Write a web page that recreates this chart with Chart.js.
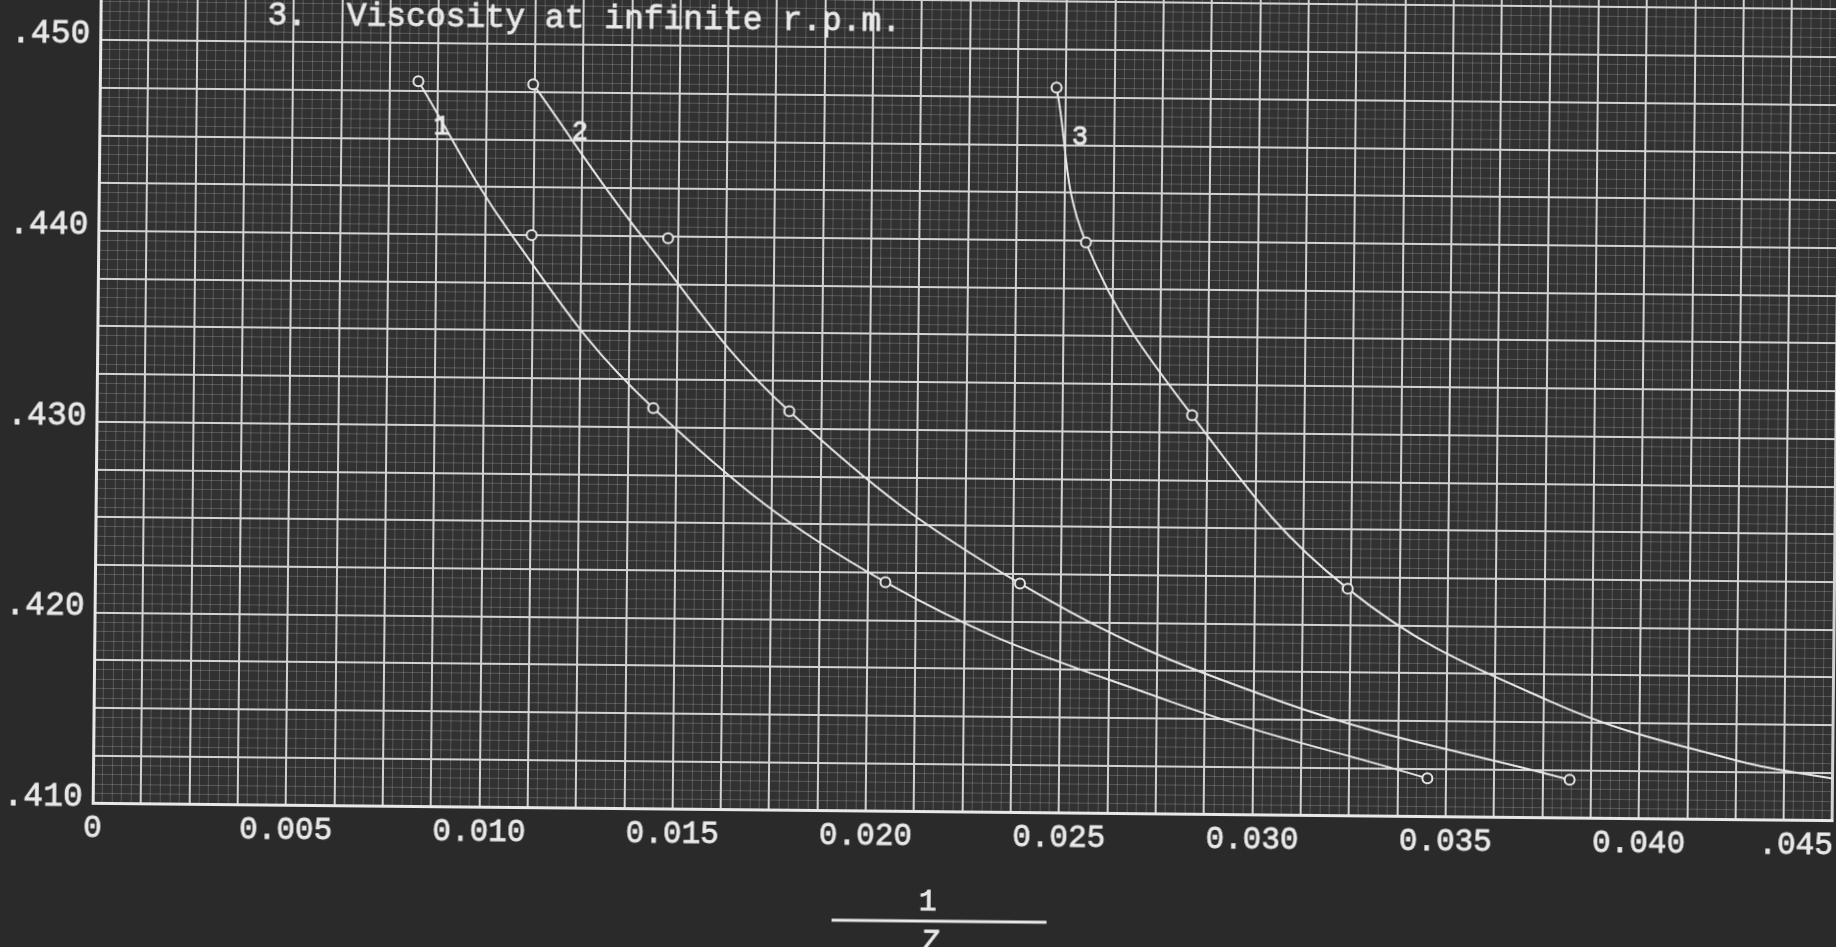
<!DOCTYPE html>
<html>
<head>
<meta charset="utf-8">
<title>Viscosity at infinite r.p.m.</title>
<script src="https://cdn.jsdelivr.net/npm/chart.js@4.4.1/dist/chart.umd.min.js"></script>
<style>
  html, body { margin: 0; width: 1836px; height: 947px; overflow: hidden; background: #2a2a2a; }
  /* the sheet sits a little crooked in the photo, so the whole canvas is tilted */
  #sheet {
    position: absolute; left: -20px; top: -20px;
    width: 1876px; height: 987px;
    transform: rotate(0.57deg); transform-origin: 50% 50%;
  }
</style>
</head>
<body>
<div id="sheet"><canvas id="viscosityChart" width="1876" height="987"></canvas></div>
<script>
// plotted circles, curve 1
const curve1X = [0.00824, 0.01121, 0.01440, 0.02045, 0.03452];
const curve1Y = [0.4480, 0.4400, 0.4310, 0.4220, 0.4120];
// plotted circles, curve 2
const curve2X = [0.01121, 0.01474, 0.01792, 0.02393, 0.03820];
const curve2Y = [0.4479, 0.4399, 0.4309, 0.4220, 0.4120];
// plotted circles, curve 3
const curve3X = [0.02475, 0.02555, 0.02834, 0.03241];
const curve3Y = [0.4480, 0.4399, 0.4309, 0.4219];

// where the hand-drawn curves actually run (they miss a couple of the circles)
const line1X = [0.00824, 0.01069, 0.01440, 0.02045, 0.02784, 0.03452];
const line1Y = [0.4480, 0.4400, 0.4310, 0.4220, 0.4159, 0.4120];
const line2X = [0.01121, 0.01406, 0.01792, 0.02393, 0.03064, 0.03820];
const line2Y = [0.4479, 0.4400, 0.4309, 0.4220, 0.4160, 0.4120];
const line3X = [0.02475, 0.02555, 0.02834, 0.03241, 0.03768, 0.04250, 0.04500];
const line3Y = [0.4480, 0.4399, 0.4309, 0.4219, 0.4161, 0.4131, 0.4122];

// curve numbers written next to the lines
const curveNames = ['1', '2', '3'];
const curveNameX = [0.00885, 0.01243, 0.02537];
const curveNameY = [0.4456, 0.4454, 0.4454];

const xTickValues = [0, 0.005, 0.010, 0.015, 0.020, 0.025, 0.030, 0.035, 0.040, 0.045];
const xTickLabels = ['0', '0.005', '0.010', '0.015', '0.020', '0.025', '0.030', '0.035', '0.040', '.045'];
const yTickValues = [0.410, 0.420, 0.430, 0.440, 0.450];
const yTickLabels = ['.410', '.420', '.430', '.440', '.450'];

const noteText = '3.  Viscosity at infinite r.p.m.';
const axisTitleTop = '1';
const axisTitleBottom = 'Z';

const INK = '#e8e8e8';
const PAPER = '#313131';
const TYPE_FONT = '"Liberation Mono", "DejaVu Sans Mono", monospace';

const ViscosityChart = {
  init() {
    const canvas = document.getElementById('viscosityChart');
    if (!canvas) return;

    new Chart(canvas, {
      type: 'scatter',
      data: { datasets: this.buildDatasets() },
      options: {
        responsive: false,
        animation: false,
        devicePixelRatio: 1,
        layout: { padding: { left: 116, right: 20.5, top: 0, bottom: 155.5 } },
        plugins: {
          legend: { display: false },
          tooltip: { enabled: false }
        },
        scales: {
          x: {
            type: 'linear',
            min: 0,
            max: 0.045,
            ticks: { display: false, stepSize: 0.00025 },
            grid: {
              drawTicks: false,
              color: (c) => this.gridColor(c.tick.value, 0.00125),
              lineWidth: (c) => Math.abs(c.tick.value - 0.045) < 1e-9 ? 3 : this.gridWidth(c.tick.value, 0.00125)
            },
            border: { display: true, color: INK, width: 3 }
          },
          y: {
            type: 'linear',
            min: 0.410,
            max: 0.4532,
            ticks: { display: false, stepSize: 0.0005 },
            grid: {
              drawTicks: false,
              color: (c) => this.gridColor(c.tick.value, 0.0025),
              lineWidth: (c) => this.gridWidth(c.tick.value, 0.0025)
            },
            border: { display: true, color: INK, width: 3 }
          }
        }
      },
      plugins: [this.paperPlugin(), this.typewriterPlugin()]
    });
  },

  toPoints(xs, ys) {
    return xs.map((x, i) => ({ x, y: ys[i] }));
  },

  buildDatasets() {
    const circles = (xs, ys) => ({
      data: this.toPoints(xs, ys),
      showLine: false,
      pointStyle: 'circle',
      pointRadius: 5,
      pointBorderWidth: 2,
      pointBorderColor: INK,
      pointBackgroundColor: PAPER
    });
    const curve = (xs, ys) => ({
      data: this.toPoints(xs, ys),
      showLine: true,
      borderColor: INK,
      borderWidth: 2,
      tension: 0.4,
      pointRadius: 0
    });

    // circles first so they end up drawn over the lines
    return [
      circles(curve1X, curve1Y),
      circles(curve2X, curve2Y),
      circles(curve3X, curve3Y),
      curve(line1X, line1Y),
      curve(line2X, line2Y),
      curve(line3X, line3Y)
    ];
  },

  isMajor(value, every) {
    const k = value / every;
    return Math.abs(k - Math.round(k)) < 1e-6;
  },

  gridColor(value, every) {
    return this.isMajor(value, every) ? '#d2d2d2' : 'rgba(180, 180, 180, 0.3)';
  },

  gridWidth(value, every) {
    return this.isMajor(value, every) ? 2 : 1;
  },

  // dark graph paper behind the grid
  paperPlugin() {
    return {
      id: 'paper',
      beforeDraw(chart) {
        const { ctx, chartArea: a } = chart;
        ctx.save();
        ctx.fillStyle = PAPER;
        ctx.fillRect(a.left, a.top, a.right - a.left, a.bottom - a.top);
        ctx.restore();
      }
    };
  },

  // typed labels: tick numbers, curve numbers, the note and the 1/Z axis title
  typewriterPlugin() {
    const type = (ctx, text, x, y) => {
      ctx.fillText(text, x, y);
      ctx.strokeText(text, x, y);
    };
    return {
      id: 'typewriter',
      afterDraw(chart) {
        const { ctx, chartArea: a } = chart;
        const xs = chart.scales.x;
        const ys = chart.scales.y;
        ctx.save();
        ctx.fillStyle = INK;
        ctx.strokeStyle = INK;
        ctx.lineWidth = 0.8;
        ctx.textBaseline = 'middle';

        ctx.font = '31px ' + TYPE_FONT;
        xTickValues.forEach((v, i) => {
          const last = i === xTickValues.length - 1;
          ctx.textAlign = last ? 'right' : 'center';
          type(ctx, xTickLabels[i], last ? a.right + 1 : xs.getPixelForValue(v), a.bottom + 25);
        });

        ctx.font = '33px ' + TYPE_FONT;
        ctx.textAlign = 'right';
        yTickValues.forEach((v, i) => {
          type(ctx, yTickLabels[i], a.left - 10, ys.getPixelForValue(v) - 6);
        });

        ctx.font = '27px ' + TYPE_FONT;
        ctx.textAlign = 'center';
        curveNames.forEach((name, i) => {
          type(ctx, name, xs.getPixelForValue(curveNameX[i]), ys.getPixelForValue(curveNameY[i]));
        });

        ctx.font = '33px ' + TYPE_FONT;
        ctx.textAlign = 'left';
        type(ctx, noteText, 283, 42);

        // 1 over Z under the axis
        ctx.font = '30px ' + TYPE_FONT;
        ctx.textAlign = 'center';
        type(ctx, axisTitleTop, 952, 922);
        ctx.lineWidth = 3;
        ctx.beginPath();
        ctx.moveTo(856, 941);
        ctx.lineTo(1071, 941);
        ctx.stroke();
        ctx.lineWidth = 0.8;
        type(ctx, axisTitleBottom, 956, 962);
        ctx.restore();
      }
    };
  }
};

document.addEventListener('DOMContentLoaded', () => ViscosityChart.init());
</script>
</body>
</html>
